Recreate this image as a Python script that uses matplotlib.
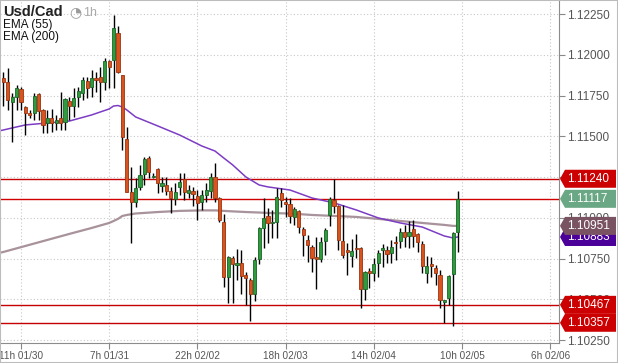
import matplotlib
matplotlib.use('Agg')
import matplotlib.pyplot as plt
import matplotlib.transforms as mtransforms
from matplotlib.patches import Polygon, Rectangle

# hourly candles, 7h 01/30 .. 9h 02/05
opens = [1.11858, 1.11833, 1.11711, 1.11741, 1.11790, 1.11680, 1.11643, 1.11643, 1.11760, 1.11662,
         1.11582, 1.11613, 1.11582, 1.11613, 1.11588, 1.11717, 1.11686, 1.11741, 1.11766, 1.11839,
         1.11803, 1.11858, 1.11864, 1.11833, 1.11962, 1.11968, 1.12134, 1.11876, 1.11484, 1.11159,
         1.11098, 1.11190, 1.11269, 1.11367, 1.11251, 1.11300, 1.11196, 1.11202, 1.11165, 1.11116,
         1.11190, 1.11239, 1.11153, 1.11165, 1.11135, 1.11098, 1.11141, 1.11165, 1.11251, 1.11122,
         1.10975, 1.10638, 1.10754, 1.10712, 1.10724, 1.10650, 1.10620, 1.10534, 1.10748, 1.10938,
         1.11012, 1.10969, 1.10975, 1.11153, 1.11098, 1.11085, 1.11006, 1.11043, 1.10932, 1.10865,
         1.10822, 1.10761, 1.10748, 1.10859, 1.11018, 1.11110, 1.11073, 1.10859, 1.10803, 1.10767,
         1.10816, 1.10816, 1.10564, 1.10675, 1.10663, 1.10724, 1.10803, 1.10803, 1.10785, 1.10853,
         1.10859, 1.10914, 1.10889, 1.10932, 1.10902, 1.10840, 1.10663, 1.10718, 1.10693, 1.10650,
         1.10485, 1.10509, 1.10656, 1.10914]
highs = [1.11895, 1.11919, 1.11766, 1.11815, 1.11803, 1.11686, 1.11662, 1.11766, 1.11766, 1.11668,
         1.11662, 1.11668, 1.11631, 1.11772, 1.11735, 1.11741, 1.11797, 1.11803, 1.11864, 1.11864,
         1.11907, 1.11895, 1.11925, 1.11980, 1.11968, 1.12244, 1.12177, 1.11876, 1.11557, 1.11312,
         1.11245, 1.11325, 1.11374, 1.11380, 1.11276, 1.11306, 1.11251, 1.11251, 1.11190, 1.11214,
         1.11276, 1.11276, 1.11202, 1.11190, 1.11171, 1.11171, 1.11214, 1.11276, 1.11337, 1.11128,
         1.11024, 1.10767, 1.10767, 1.10810, 1.10803, 1.10669, 1.10632, 1.10761, 1.10944, 1.11122,
         1.11061, 1.11049, 1.11184, 1.11184, 1.11128, 1.11122, 1.11067, 1.11049, 1.10944, 1.10895,
         1.10834, 1.10883, 1.10883, 1.10938, 1.11128, 1.11239, 1.11079, 1.11079, 1.10846, 1.10871,
         1.10902, 1.10822, 1.10675, 1.10693, 1.10754, 1.10803, 1.10840, 1.10828, 1.10865, 1.10889,
         1.10938, 1.10957, 1.10981, 1.10987, 1.10908, 1.10859, 1.10767, 1.10761, 1.10712, 1.10681,
         1.10497, 1.10650, 1.10914, 1.11165]
lows = [1.11686, 1.11662, 1.11466, 1.11662, 1.11662, 1.11508, 1.11613, 1.11600, 1.11600, 1.11521,
        1.11521, 1.11527, 1.11539, 1.11539, 1.11539, 1.11600, 1.11619, 1.11680, 1.11723, 1.11735,
        1.11741, 1.11772, 1.11711, 1.11784, 1.11797, 1.11797, 1.11889, 1.11416, 1.11159, 1.10846,
        1.11067, 1.11171, 1.11202, 1.11245, 1.11245, 1.11153, 1.11159, 1.11141, 1.11030, 1.11079,
        1.11141, 1.11110, 1.11122, 1.11073, 1.10987, 1.11049, 1.11098, 1.11122, 1.11098, 1.10975,
        1.10577, 1.10479, 1.10479, 1.10620, 1.10534, 1.10466, 1.10368, 1.10491, 1.10718, 1.10816,
        1.10846, 1.10877, 1.10877, 1.11067, 1.11006, 1.10969, 1.10957, 1.10908, 1.10767, 1.10730,
        1.10669, 1.10564, 1.10730, 1.10773, 1.10951, 1.11030, 1.10803, 1.10754, 1.10650, 1.10699,
        1.10754, 1.10448, 1.10497, 1.10571, 1.10613, 1.10638, 1.10699, 1.10724, 1.10724, 1.10742,
        1.10816, 1.10822, 1.10816, 1.10822, 1.10791, 1.10663, 1.10601, 1.10638, 1.10589, 1.10448,
        1.10357, 1.10466, 1.10338, 1.10791]
closes = [1.11833, 1.11723, 1.11741, 1.11797, 1.11711, 1.11643, 1.11631, 1.11748, 1.11656, 1.11570,
          1.11613, 1.11582, 1.11600, 1.11582, 1.11729, 1.11686, 1.11735, 1.11778, 1.11846, 1.11797,
          1.11858, 1.11846, 1.11833, 1.11962, 1.11925, 1.12164, 1.11895, 1.11496, 1.11159, 1.11098,
          1.11184, 1.11263, 1.11361, 1.11282, 1.11257, 1.11214, 1.11214, 1.11165, 1.11122, 1.11159,
          1.11220, 1.11159, 1.11171, 1.11147, 1.11092, 1.11141, 1.11171, 1.11251, 1.11122, 1.10987,
          1.10638, 1.10761, 1.10718, 1.10724, 1.10644, 1.10632, 1.10534, 1.10742, 1.10938, 1.11000,
          1.10969, 1.10975, 1.11128, 1.11110, 1.11085, 1.11012, 1.11055, 1.10944, 1.10895, 1.10834,
          1.10754, 1.10748, 1.10853, 1.10926, 1.11116, 1.11073, 1.10865, 1.10773, 1.10791, 1.10797,
          1.10810, 1.10564, 1.10669, 1.10663, 1.10718, 1.10785, 1.10816, 1.10779, 1.10822, 1.10846,
          1.10914, 1.10883, 1.10914, 1.10889, 1.10853, 1.10705, 1.10705, 1.10705, 1.10663, 1.10497,
          1.10497, 1.10644, 1.10908, 1.11117]

# EMA values read at some bar positions
ema_idx = [-1, 0, 5, 10, 15, 20, 24, 25, 26, 27, 28, 30, 35, 40, 45, 48, 50, 52, 55, 58,
           60, 65, 70, 75, 80, 85, 90, 95, 100, 102, 103]
ema55 = [1.11533, 1.11539, 1.11570, 1.11582, 1.11594, 1.11631, 1.11668, 1.11686, 1.11689, 1.11680,
         1.11662, 1.11619, 1.11564, 1.11508, 1.11441, 1.11410, 1.11367, 1.11325, 1.11251, 1.11202,
         1.11190, 1.11171, 1.11122, 1.11092, 1.11049, 1.11000, 1.10969, 1.10944, 1.10889, 1.10877,
         1.10883]
ema200 = [1.10785, 1.10791, 1.10828, 1.10865, 1.10902, 1.10938, 1.10969, 1.10981, 1.10994, 1.11012,
          1.11018, 1.11027, 1.11036, 1.11043, 1.11046, 1.11046, 1.11043, 1.11040, 1.11036, 1.11033,
          1.11030, 1.11027, 1.11018, 1.11012, 1.11006, 1.10994, 1.10981, 1.10969, 1.10957, 1.10951,
          1.10951]

x_ticks = [4, 24, 44, 64, 84, 104, 124]
x_labels = ['11h 01/30', '7h 01/31', '22h 02/02', '18h 02/03', '14h 02/04', '10h 02/05', '6h 02/06']
y_ticks = [1.1025, 1.105, 1.1075, 1.11, 1.1125, 1.115, 1.1175, 1.12, 1.1225]

levels = [1.11240, 1.10467, 1.10357]
last_price = 1.11117

tag_values = [1.11240, 1.11117, 1.10883, 1.10951, 1.10467, 1.10357]
tag_colors = ['#cc0000', '#6aa784', '#4a0099', '#7a5363', '#cc0000', '#cc0000']

GREEN = '#2e9c3c'
GREEN_EDGE = '#1b6426'
RED = '#d9531e'
RED_EDGE = '#9a3512'


def draw_chart(fname):
    fig = plt.figure(figsize=(6.18, 3.63), dpi=100)
    ax = fig.add_axes([0, 20 / 363, 559 / 618, 343 / 363])
    ymin, ymax = 1.10233, 1.12336
    ax.set_xlim(-0.75, 126.0)
    ax.set_ylim(ymin, ymax)

    ax.grid(True, color='#c8c8c8', linestyle=(0, (1, 2)), linewidth=0.8)
    ax.set_axisbelow(True)

    for lv in levels:
        ax.axhline(lv, color='#c40000', linewidth=1, zorder=2)
    ax.axhline(last_price, color='#d00000', linewidth=1, zorder=2)

    ax.plot(ema_idx, ema200, color='#a8929b', linewidth=1.6, zorder=3)
    ax.plot(ema_idx, ema55, color='#7c3cc4', linewidth=1.1, zorder=3)

    n = len(opens)
    for i in range(n):
        o, h, l, c = opens[i], highs[i], lows[i], closes[i]
        ax.vlines(i, l, h, color='black', linewidth=1.0, zorder=4)
        up = c >= o
        hgt = max(abs(c - o), 0.00004)
        ax.bar(i, hgt, bottom=min(o, c), width=0.72,
               color=GREEN if up else RED, edgecolor=GREEN_EDGE if up else RED_EDGE,
               linewidth=0.6, zorder=5)

    ax.yaxis.tick_right()
    ax.set_yticks(y_ticks)
    ax.set_yticklabels(['%.5f' % v for v in y_ticks], family='Liberation Sans')
    ax.set_xticks(x_ticks)
    ax.set_xticklabels(x_labels, family='Liberation Sans')
    ax.tick_params(axis='y', direction='out', length=4, color='#888888',
                   labelcolor='#555555', labelsize=8.5, pad=2)
    ax.tick_params(axis='x', direction='out', length=4, color='#888888',
                   labelcolor='#555555', labelsize=7.2, pad=2)
    for s in ['left', 'top']:
        ax.spines[s].set_visible(False)
    for s in ['right', 'bottom']:
        ax.spines[s].set_color('#8c8c8c')

    # price tags on the right axis
    trans = mtransforms.blended_transform_factory(ax.transAxes, ax.transData)
    px_x = 1.0 / 559
    px_y = (ymax - ymin) / 343
    for k, (v, col) in enumerate(zip(tag_values, tag_colors)):
        verts = [(1 + 1 * px_x, v),
                 (1 + 6 * px_x, v + 9 * px_y),
                 (1 + 57 * px_x, v + 9 * px_y),
                 (1 + 57 * px_x, v - 9 * px_y),
                 (1 + 6 * px_x, v - 9 * px_y)]
        ax.add_patch(Polygon(verts, closed=True, facecolor=col, edgecolor='none',
                             transform=trans, clip_on=False, zorder=10 + k))
        ax.text(1 + 8 * px_x, v, '%.5f' % v, transform=trans, color='white',
                fontsize=8.5, family='Liberation Sans', va='center', ha='left',
                clip_on=False, zorder=10 + k)

    fig.text(3 / 618, 1 - 16 / 363, 'Usd/Cad', fontsize=10.5, fontweight='bold',
             family='Liberation Sans', color='#222222', va='baseline')
    fig.text(69 / 618, 1 - 16 / 363, '\u25d4', fontsize=10, family='DejaVu Sans',
             color='#9a9a9a', va='baseline')
    fig.text(83 / 618, 1 - 16 / 363, '1h', fontsize=9, family='Liberation Sans',
             color='#aaaaaa', va='baseline')
    fig.text(3 / 618, 1 - 28 / 363, 'EMA (55)', fontsize=8.5, family='Liberation Sans',
             color='#111111', va='baseline')
    fig.text(3 / 618, 1 - 40 / 363, 'EMA (200)', fontsize=8.5, family='Liberation Sans',
             color='#111111', va='baseline')

    fig.patches.append(Rectangle((0, 0), 1, 1, transform=fig.transFigure, fill=False,
                                 edgecolor='#bcbcbc', linewidth=1.5))

    plt.savefig(fname, dpi=100)
    plt.close()


def main():
    draw_chart('out.png')


if __name__ == '__main__':
    main()
